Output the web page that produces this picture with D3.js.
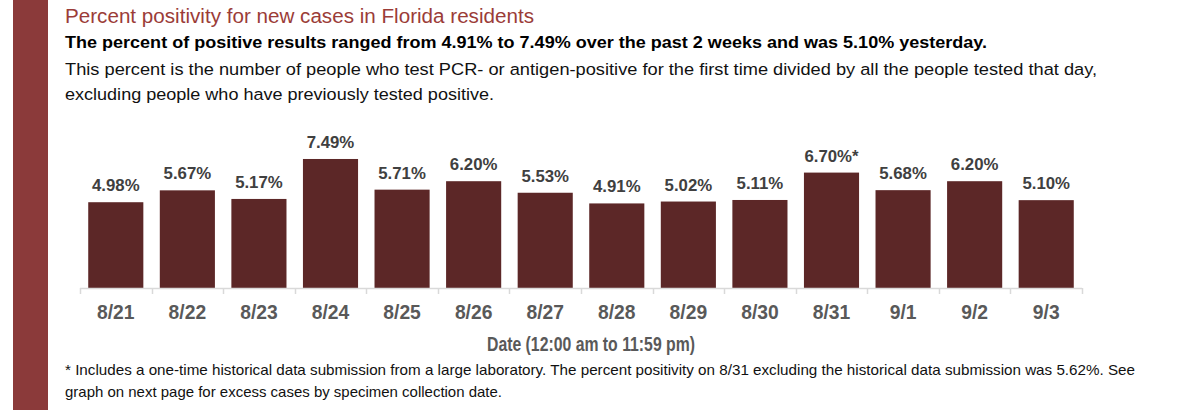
<!DOCTYPE html>
<html>
<head>
<meta charset="utf-8">
<script src="https://cdn.jsdelivr.net/npm/d3@7"></script>
<style>
  html, body { margin: 0; padding: 0; background: #ffffff; }
  svg { display: block; }
</style>
</head>
<body>
<svg id="chart" width="1200" height="419"></svg>
<script>
const categories = ["8/21","8/22","8/23","8/24","8/25","8/26","8/27","8/28","8/29","8/30","8/31","9/1","9/2","9/3"];
const positivity = [4.98, 5.67, 5.17, 7.49, 5.71, 6.20, 5.53, 4.91, 5.02, 5.11, 6.70, 5.68, 6.20, 5.10];
const labelSuffix = ["","","","","","","","","","","*","","",""];

const titleText = "Percent positivity for new cases in Florida residents";
const subtitleText = "The percent of positive results ranged from 4.91% to 7.49% over the past 2 weeks and was 5.10% yesterday.";
const descLines = [
  "This percent is the number of people who test PCR- or antigen-positive for the first time divided by all the people tested that day,",
  "excluding people who have previously tested positive."
];
const axisTitle = "Date (12:00 am to 11:59 pm)";
const footLines = [
  "* Includes a one-time historical data submission from a large laboratory. The percent positivity on 8/31 excluding the historical data submission was 5.62%. See",
  "graph on next page for excess cases by specimen collection date."
];

const svg = d3.select("#chart");
const SANS = "'Liberation Sans', Arial, sans-serif";
const NARROW = "'Liberation Sans Narrow', 'Liberation Sans', Arial, sans-serif";

// left accent bar
svg.append("rect").attr("x", 13).attr("y", 0).attr("width", 35).attr("height", 410).attr("fill", "#8B3A3A");

function addText(o) {
  const t = svg.append("text")
    .attr("x", o.x).attr("y", o.y)
    .attr("font-family", o.family || SANS)
    .attr("font-size", o.size)
    .attr("font-weight", o.weight || "normal")
    .attr("fill", o.color || "#000")
    .attr("text-anchor", o.anchor || "start")
    .text(o.text);
  if (o.width) t.attr("textLength", o.width).attr("lengthAdjust", "spacingAndGlyphs");
  return t;
}

addText({text: titleText, x: 65, y: 23, size: 19.5, color: "#9B3C38", width: 469});
addText({text: subtitleText, x: 65, y: 48, size: 17, weight: "bold", color: "#000", width: 922});
addText({text: descLines[0], x: 65, y: 75, size: 16.3, color: "#111", width: 1032});
addText({text: descLines[1], x: 65, y: 100, size: 16.3, color: "#111", width: 429});

// chart
const x = d3.scaleBand().domain(categories).range([80, 1082]).paddingInner(0.23).paddingOuter(0.115);
const y = d3.scaleLinear().domain([0, 8]).range([288, 150.2]);

const g = svg.append("g");
g.selectAll("rect.bar").data(categories).join("rect")
  .attr("class", "bar")
  .attr("x", d => x(d))
  .attr("width", x.bandwidth())
  .attr("y", (d, i) => y(positivity[i]))
  .attr("height", (d, i) => y(0) - y(positivity[i]))
  .attr("fill", "#5C2727");

g.selectAll("text.val").data(categories).join("text")
  .attr("class", "val")
  .attr("x", d => x(d) + x.bandwidth() / 2)
  .attr("y", (d, i) => y(positivity[i]) - 11)
  .attr("text-anchor", "middle")
  .attr("font-family", SANS)
  .attr("font-weight", "bold")
  .attr("font-size", 16.8)
  .attr("fill", "#404040")
  .text((d, i) => positivity[i].toFixed(2) + "%" + labelSuffix[i]);

// axis line with ticks at band boundaries
const step = x.step();
const bounds = d3.range(categories.length + 1).map(i => 80 + i * step);
g.append("line").attr("x1", 80).attr("x2", 1082).attr("y1", 288.5).attr("y2", 288.5)
  .attr("stroke", "#d9d9d9").attr("stroke-width", 1.5);
g.selectAll("line.tick").data(bounds).join("line")
  .attr("class", "tick")
  .attr("x1", d => Math.round(d) + 0.5).attr("x2", d => Math.round(d) + 0.5)
  .attr("y1", 288).attr("y2", 294)
  .attr("stroke", "#d9d9d9").attr("stroke-width", 1.5);

const xAxis = d3.axisBottom(x).tickSize(0).tickPadding(0);
const ax = g.append("g").attr("transform", "translate(0,319)").call(xAxis);
ax.select(".domain").remove();
ax.selectAll("text")
  .attr("dy", 0).attr("y", 0)
  .attr("font-family", SANS)
  .attr("font-weight", "bold")
  .attr("font-size", 19.3)
  .attr("fill", "#595959");

addText({text: axisTitle, x: 591, y: 351, size: 19.5, weight: "bold", family: NARROW, color: "#595959", anchor: "middle", width: 208});

addText({text: footLines[0], x: 65, y: 375, size: 15, color: "#111", width: 1070});
addText({text: footLines[1], x: 65, y: 397, size: 15, color: "#111", width: 437});
</script>
</body>
</html>
